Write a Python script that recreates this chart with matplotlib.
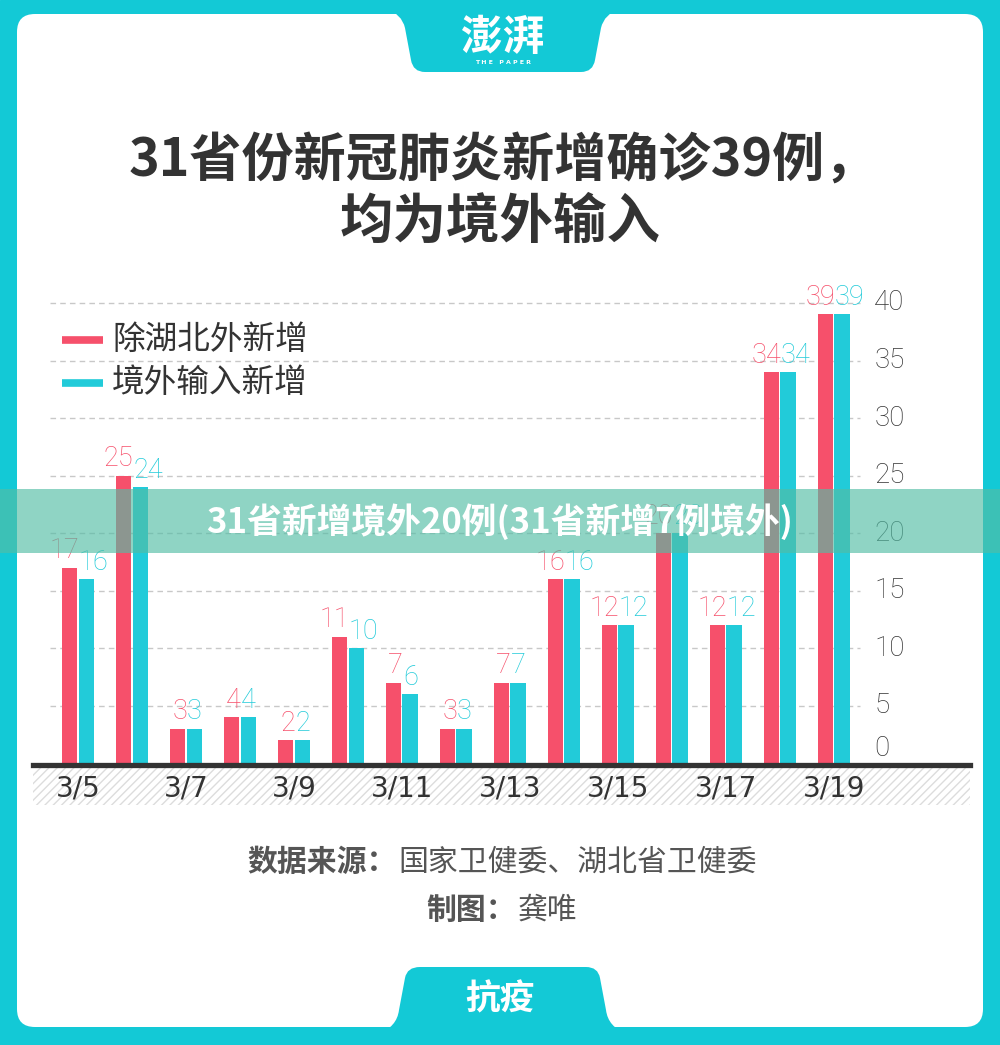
import matplotlib
matplotlib.use('agg')
import matplotlib.pyplot as plt
from matplotlib.patches import FancyBboxPatch, Rectangle, PathPatch
from matplotlib.path import Path

plt.rcParams['font.family'] = ['Noto Sans CJK SC', 'DejaVu Sans']

# data
dates = ['3/5', '3/6', '3/7', '3/8', '3/9', '3/10', '3/11', '3/12',
         '3/13', '3/14', '3/15', '3/16', '3/17', '3/18', '3/19']
non_hubei = [17, 25, 3, 4, 2, 11, 7, 3, 7, 16, 12, 20, 12, 34, 39]
imported = [16, 24, 3, 4, 2, 10, 6, 3, 7, 16, 12, 20, 12, 34, 39]
yticks = [0, 5, 10, 15, 20, 25, 30, 35, 40]
series_names = ['除湖北外新增', '境外输入新增']

RED = '#F6506B'
CYAN = '#22CBD9'
FRAME = '#13C9D6'
DARK = '#333333'

fig = plt.figure(figsize=(10, 10.45), dpi=100)

# background layer in pixel coords
bg = fig.add_axes([0, 0, 1, 1], zorder=0)
bg.set_xlim(0, 1000)
bg.set_ylim(1045, 0)
bg.axis('off')
bg.add_patch(Rectangle((0, 0), 1000, 1045, color=FRAME))
bg.add_patch(FancyBboxPatch((17, 14), 966, 1013, boxstyle='round,pad=0,rounding_size=18',
                            fc='white', ec='none'))

C3 = Path.CURVE3
top_tab = Path([(385, 8), (402, 14), (405, 28), (411, 60), (413, 72), (425, 72),
                (581, 72), (593, 72), (595, 60), (601, 28), (604, 14), (621, 8), (385, 8)],
               [Path.MOVETO, C3, C3, Path.LINETO, C3, C3, Path.LINETO, C3, C3,
                Path.LINETO, C3, C3, Path.CLOSEPOLY])
bg.add_patch(PathPatch(top_tab, fc=FRAME, ec='none'))
bot_tab = Path([(378, 1034), (397, 1027), (399, 1010), (405, 978), (407, 967), (420, 967),
                (586, 967), (598, 967), (600, 978), (606, 1010), (608, 1027), (627, 1034),
                (378, 1034)],
               [Path.MOVETO, C3, C3, Path.LINETO, C3, C3, Path.LINETO, C3, C3,
                Path.LINETO, C3, C3, Path.CLOSEPOLY])
bg.add_patch(PathPatch(bot_tab, fc=FRAME, ec='none'))

bg.text(503, 38, '澎湃', color='white', fontsize=30, fontweight='bold',
        ha='center', va='center', style='italic')
bg.text(503, 63, 'T H E   P A P E R', color='white', fontsize=4.5, fontweight='bold',
        ha='center', va='center', family='DejaVu Sans')
bg.text(500, 999, '抗疫', color='white', fontsize=25, fontweight='bold',
        ha='center', va='center')

bg.text(503, 160, '31省份新冠肺炎新增确诊39例，', color=DARK, fontsize=37.5,
        fontweight='bold', ha='center', va='center')
bg.text(500, 222, '均为境外输入', color=DARK, fontsize=38.5,
        fontweight='bold', ha='center', va='center')

# hatched strip under the axis
bg.add_patch(Rectangle((33, 767), 937, 38, fc='white', ec='#dcdcdc', hatch='////', lw=0))

# legend
bg.plot([62, 103], [340, 340], color=RED, lw=5.5, solid_capstyle='butt')
bg.plot([62, 103], [383, 383], color=CYAN, lw=5.5, solid_capstyle='butt')
bg.text(112, 340, series_names[0], color=DARK, fontsize=23.5, fontweight='light', va='center')
bg.text(112, 383, series_names[1], color=DARK, fontsize=23.5, fontweight='light', va='center')

# source
bg.text(247, 862, '数据来源：', color='#555555', fontsize=21.5, fontweight='bold',
        ha='left', va='center')
bg.text(398, 862, '国家卫健委、湖北省卫健委', color='#555555', fontsize=21.5,
        fontweight='light', ha='left', va='center')
bg.text(426, 910, '制图：', color='#555555', fontsize=21.5, fontweight='bold',
        ha='left', va='center')
bg.text(518, 910, '龚唯', color='#555555', fontsize=21.5, fontweight='light',
        ha='left', va='center')

# chart
ax = fig.add_axes([33 / 1000, (1045 - 765) / 1045, 937 / 1000, (765 - 290) / 1045], zorder=1)
ax.patch.set_alpha(0)
ax.set_xlim(-0.833, 16.52)
ax.set_ylim(-0.17, 41.13)
for s in ['top', 'left', 'right']:
    ax.spines[s].set_visible(False)
ax.spines['bottom'].set_linewidth(3.8)
ax.spines['bottom'].set_color('#333333')
ax.spines['bottom'].set_position(('data', -0.17))
ax.set_yticks([])
ax.set_xticks([])

ax.hlines(yticks[1:], -0.52, 14.48, colors='#c8c8c8', linestyles=(0, (4, 3)), lw=1, zorder=0)

x = list(range(len(dates)))
w = 0.28
ax.bar([i - 0.15 for i in x], non_hubei, width=w, color=RED, zorder=2)
ax.bar([i + 0.15 for i in x], imported, width=w, color=CYAN, zorder=2)

num_font = ['Roboto', 'DejaVu Sans']
for i in x:
    ax.text(i + 0.02, non_hubei[i] + 0.3, str(non_hubei[i]), color=RED, fontsize=19.5,
            ha='right', va='bottom', family=num_font, fontweight='light')
    ax.text(i + 0.02, imported[i] + 0.3, str(imported[i]), color=CYAN, fontsize=19.5,
            ha='left', va='bottom', family=num_font, fontweight='light')

for v in yticks:
    ax.text(14.75, v if v else 1.3, str(v), color=DARK, fontsize=20, ha='left',
            va='center', family=num_font, fontweight='light')

for i in x[::2]:
    ax.text(i, -2.2, dates[i], color=DARK, fontsize=20, ha='center', va='center',
            family=['Liberation Sans Narrow', 'DejaVu Sans'], clip_on=False)

# overlay banner
ov = fig.add_axes([0, 0, 1, 1], zorder=5)
ov.set_xlim(0, 1000)
ov.set_ylim(1045, 0)
ov.axis('off')
ov.patch.set_alpha(0)
ov.add_patch(Rectangle((0, 489), 1000, 64, fc='#53BDA5', alpha=0.65, ec='none'))
ov.text(500, 522, '31省新增境外20例(31省新增7例境外)', color='white', fontsize=25,
        fontweight='heavy', ha='center', va='center')

fig.savefig('out.png', dpi=100)
